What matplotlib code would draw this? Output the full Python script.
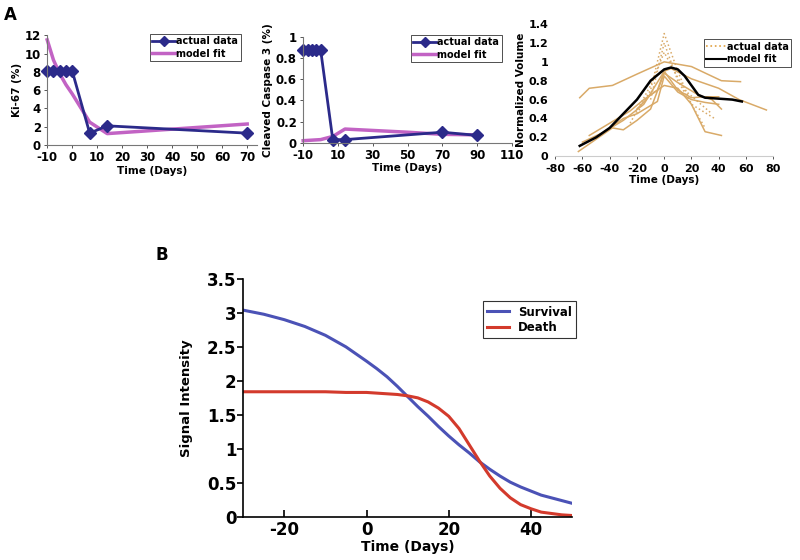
import numpy as np
import matplotlib
matplotlib.use('Agg')
import matplotlib.pyplot as plt

plt.rcParams['font.family'] = 'DejaVu Sans'
plt.rcParams['font.weight'] = 'bold'
plt.rcParams['axes.unicode_minus'] = False

# panel A1 - Ki-67
ki_x = [-10, -7.5, -5, -2.5, 0, 7, 14, 70]
ki_actual = [8.1, 8.1, 8.1, 8.1, 8.1, 1.3, 2.1, 1.3]
ki_fit = [11.5, 9.3, 7.8, 6.6, 5.6, 2.5, 1.25, 2.3]

# panel A2 - cleaved caspase 3
cc_x = [-10, -7.5, -5, -2.5, 0, 7, 14, 70, 90]
cc_actual = [0.88, 0.88, 0.88, 0.88, 0.88, 0.03, 0.03, 0.10, 0.07]
cc_fit_x = [-10, 0, 7, 14, 50, 70, 90]
cc_fit = [0.02, 0.03, 0.06, 0.13, 0.10, 0.08, 0.075]

# panel A3 - normalized volume, individual tumours
vol_solid = [
    ([-62, -55, -38, -20, 0, 20, 42, 56], [0.62, 0.72, 0.75, 0.87, 1.0, 0.95, 0.8, 0.79]),
    ([-60, -45, -30, -15, 0, 5, 20, 40, 55, 75], [0.15, 0.25, 0.38, 0.55, 0.9, 0.93, 0.82, 0.72, 0.6, 0.49]),
    ([-63, -50, -38, -30, -20, -10, 0, 10, 25, 35, 42], [0.05, 0.18, 0.3, 0.28, 0.38, 0.5, 0.88, 0.78, 0.65, 0.6, 0.5]),
    ([-55, -40, -25, -15, -5, 0, 10, 20, 30, 40], [0.22, 0.35, 0.48, 0.6, 0.7, 0.9, 0.7, 0.62, 0.63, 0.63]),
    ([-50, -30, -20, -5, 0, 10, 20, 30, 40], [0.2, 0.4, 0.45, 0.58, 0.85, 0.68, 0.6, 0.57, 0.55]),
    ([-20, -10, 0, 10, 20, 30, 42], [0.5, 0.65, 0.75, 0.72, 0.55, 0.26, 0.22]),
]
vol_dotted = [
    ([-20, -10, 0, 10, 20, 37], [0.45, 0.7, 1.3, 0.9, 0.55, 0.4]),
    ([-10, 0, 10, 20, 30], [0.6, 1.2, 0.8, 0.55, 0.3]),
    ([-25, -10, 0, 15, 35], [0.35, 0.75, 1.1, 0.7, 0.45]),
]
vol_fit_x = [-62, -50, -40, -30, -20, -10, 0, 5, 10, 15, 20, 25, 30, 40, 50, 57]
vol_fit = [0.11, 0.2, 0.3, 0.45, 0.6, 0.8, 0.92, 0.94, 0.92, 0.85, 0.75, 0.65, 0.62, 0.61, 0.6, 0.58]

# panel B - signal intensity
sig_x = [-30, -25, -20, -15, -10, -5, 0, 2.5, 5, 7.5, 10, 12.5, 15, 17.5, 20, 22.5,
         25, 27.5, 30, 32.5, 35, 37.5, 40, 42.5, 45, 47.5, 50]
survival = [3.04, 2.98, 2.90, 2.80, 2.67, 2.50, 2.29, 2.18, 2.06, 1.92, 1.77, 1.62, 1.48, 1.33,
            1.19, 1.06, 0.94, 0.81, 0.70, 0.60, 0.51, 0.44, 0.38, 0.32, 0.28, 0.24, 0.20]
death = [1.84, 1.84, 1.84, 1.84, 1.84, 1.83, 1.83, 1.82, 1.81, 1.80, 1.78, 1.75, 1.69, 1.60,
         1.48, 1.30, 1.06, 0.82, 0.60, 0.42, 0.28, 0.18, 0.12, 0.07, 0.05, 0.03, 0.02]

navy = '#2b2a8a'
pink = '#c263c4'
tan = '#d9aa68'
tick_fs = 8.5
lab_fs = 7.5
leg_prop = {'size': 7, 'weight': 'bold'}

fig = plt.figure(figsize=(8, 5.6), dpi=100)


def excel_axes(ax, fs=tick_fs):
    ax.spines['top'].set_visible(False)
    ax.spines['right'].set_visible(False)
    ax.spines['left'].set_color('#777777')
    ax.spines['bottom'].set_color('#777777')
    ax.tick_params(labelsize=fs, length=2.5, width=0.7, color='#555555', pad=2)
    for lab in ax.get_xticklabels() + ax.get_yticklabels():
        lab.set_fontweight('bold')


# A1
ax1 = fig.add_axes([0.059, 0.741, 0.2625, 0.196])
ax1.plot(ki_x, ki_fit, color=pink, lw=2.5, clip_on=False)
ax1.plot(ki_x, ki_actual, color=navy, lw=2, marker='D', ms=6.5, clip_on=False)
ax1.set_xlim(-10, 74)
ax1.set_ylim(0, 12)
ax1.set_xticks(range(-10, 71, 10))
ax1.set_yticks(range(0, 13, 2))
excel_axes(ax1)
ax1.set_xlabel('Time (Days)', fontsize=lab_fs, fontweight='bold', labelpad=1)
ax1.set_ylabel('Ki-67 (%)', fontsize=lab_fs, fontweight='bold', labelpad=2)
h1, = ax1.plot([], [], color=navy, lw=2, marker='D', ms=5)
h2, = ax1.plot([], [], color=pink, lw=2.5)
ax1.legend([h1, h2], ['actual data', 'model fit'], loc='upper right', bbox_to_anchor=(0.93, 1.03),
           fancybox=False, edgecolor='black', handlelength=2.4, handletextpad=0.1, borderpad=0.25,
           labelspacing=0.25, borderaxespad=0.2, prop=leg_prop).get_frame().set_linewidth(0.6)

# A2
ax2 = fig.add_axes([0.379, 0.745, 0.261, 0.189])
ax2.plot(cc_fit_x, cc_fit, color=pink, lw=2.5, clip_on=False)
ax2.plot(cc_x, cc_actual, color=navy, lw=2, marker='D', ms=6.5, clip_on=False)
ax2.set_xlim(-10, 110)
ax2.set_ylim(0, 1)
ax2.set_xticks(range(-10, 111, 20))
ax2.set_yticks([0, 0.2, 0.4, 0.6, 0.8, 1])
ax2.set_yticklabels(['0', '0.2', '0.4', '0.6', '0.8', '1'])
excel_axes(ax2)
ax2.set_xlabel('Time (Days)', fontsize=lab_fs, fontweight='bold', labelpad=1)
ax2.set_ylabel('Cleaved Caspase 3 (%)', fontsize=lab_fs, fontweight='bold', labelpad=2)
h1, = ax2.plot([], [], color=navy, lw=2, marker='D', ms=5)
h2, = ax2.plot([], [], color=pink, lw=2.5)
ax2.legend([h1, h2], ['actual data', 'model fit'], loc='upper right', bbox_to_anchor=(0.96, 1.04),
           fancybox=False, edgecolor='black', handlelength=2.4, handletextpad=0.1, borderpad=0.25,
           labelspacing=0.25, borderaxespad=0.2, prop=leg_prop).get_frame().set_linewidth(0.6)

# A3
ax3 = fig.add_axes([0.694, 0.721, 0.2725, 0.236])
for xs, ys in vol_solid:
    ax3.plot(xs, ys, color=tan, lw=1.1)
for xs, ys in vol_dotted:
    ax3.plot(xs, ys, color=tan, lw=1.1, ls=':')
ax3.plot(vol_fit_x, vol_fit, color='black', lw=1.8)
ax3.set_xlim(-80, 80)
ax3.set_ylim(0, 1.4)
ax3.set_xticks(range(-80, 81, 20))
ax3.set_yticks([0, 0.2, 0.4, 0.6, 0.8, 1, 1.2, 1.4])
ax3.set_yticklabels(['0', '0.2', '0.4', '0.6', '0.8', '1', '1.2', '1.4'])
excel_axes(ax3, fs=8)
ax3.spines['left'].set_visible(False)
ax3.spines['bottom'].set_color('#cccccc')
ax3.tick_params(axis='y', length=0, pad=5)
ax3.tick_params(axis='x', pad=3)
ax3.set_xlabel('Time (Days)', fontsize=lab_fs, fontweight='bold', labelpad=1)
ax3.set_ylabel('Normalized Volume', fontsize=lab_fs, fontweight='bold', labelpad=2)
h1, = ax3.plot([], [], color='#e0a040', lw=1.2, ls=':')
h2, = ax3.plot([], [], color='black', lw=1.5)
ax3.legend([h1, h2], ['actual data', 'model fit'], loc='upper right', bbox_to_anchor=(1.09, 0.9),
           fancybox=False, edgecolor='black', handlelength=2.0, handletextpad=0.1, borderpad=0.25,
           labelspacing=0.25, borderaxespad=0.2, prop=leg_prop).get_frame().set_linewidth(0.6)

# B
axb = fig.add_axes([0.304, 0.077, 0.411, 0.425])
axb.plot(sig_x, survival, color='#4b52b6', lw=2.2, label='Survival')
axb.plot(sig_x, death, color='#d33a2c', lw=2.2, label='Death')
axb.set_xlim(-30, 50)
axb.set_ylim(0, 3.5)
axb.set_xticks([-20, 0, 20, 40])
axb.set_yticks([0, 0.5, 1, 1.5, 2, 2.5, 3, 3.5])
axb.set_yticklabels(['0', '0.5', '1', '1.5', '2', '2.5', '3', '3.5'])
axb.spines['top'].set_visible(False)
axb.spines['right'].set_visible(False)
axb.spines['left'].set_linewidth(1.2)
axb.spines['bottom'].set_linewidth(1.2)
axb.tick_params(axis='x', direction='in', length=5, width=1.2, labelsize=12, pad=3)
axb.tick_params(axis='y', direction='out', length=4, width=1.2, labelsize=12, pad=1)
for lab in axb.get_xticklabels() + axb.get_yticklabels():
    lab.set_fontweight('bold')
axb.set_xlabel('Time (Days)', fontsize=10, fontweight='bold', labelpad=1)
axb.set_ylabel('Signal Intensity', fontsize=9.5, fontweight='bold', labelpad=10)
axb.legend(loc='upper right', bbox_to_anchor=(1.03, 0.93), fancybox=False, edgecolor='black',
           handlelength=1.8, borderpad=0.35, labelspacing=0.2,
           prop={'size': 8.5, 'weight': 'bold'}).get_frame().set_linewidth(0.8)

fig.text(0.0125, 0.973, 'A', fontsize=12, fontweight='bold', ha='center', va='center')
fig.text(0.2025, 0.545, 'B', fontsize=12, fontweight='bold', ha='center', va='center')

fig.savefig('out.png', dpi=100)
